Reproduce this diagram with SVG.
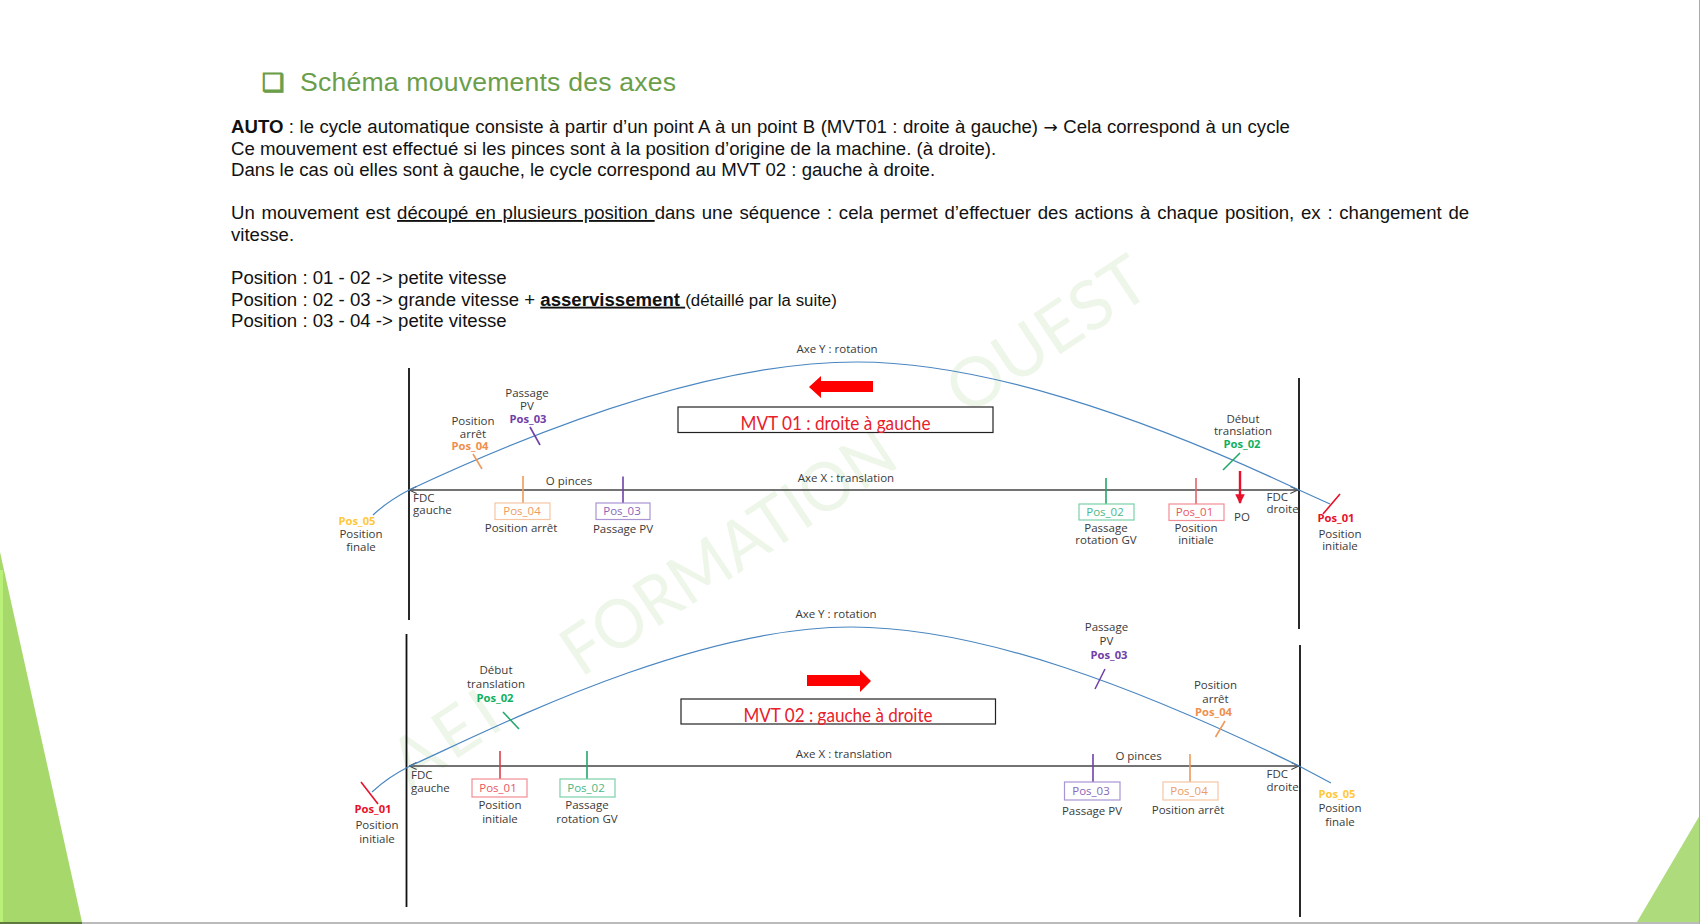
<svg xmlns="http://www.w3.org/2000/svg" width="1700" height="924" viewBox="0 0 1700 924">
<style>
text{font-family:"Open Sans","Noto Sans",sans-serif;font-size:11.5px;fill:#3a3a3a}
.c{text-anchor:middle}
.body text{font-family:"Liberation Sans",Arial,sans-serif;font-size:18.62px;fill:#111}
.u{text-decoration:underline}
.k{font-weight:700}
text.p{font-weight:700;font-size:11.2px}
.box{fill:#fff;stroke-width:1.2}
.tk{fill:none;stroke-width:1.6}
.r{stroke:#e8102a}.rb{stroke:#f28d95}.rt{fill:#ec5560}.rp{fill:#e8102a}
.o{stroke:#ed9a5c}.ob{stroke:#f6c6a4}.ot{fill:#ee9a60}.op{fill:#ee8f4e}
.v{stroke:#7040a8}.vb{stroke:#a994d4}.vt{fill:#8a66b8}.vp{fill:#7040a8}
.g{stroke:#22a86a}.gb{stroke:#7cd0a8}.gt{fill:#4ab888}.gp{fill:#10b060}
.y{fill:#ffc83a}
.curve{fill:none;stroke:#4a86c0;stroke-width:1.2}
.axis{fill:none;stroke:#444;stroke-width:1.3;marker-start:url(#open);marker-end:url(#open)}
.wall{stroke:#111;stroke-width:1.8}
text.mvt{font-family:"Lato","Open Sans",sans-serif;font-size:19px;fill:#e8202a}
.mb{fill:#fff;stroke:#222;stroke-width:1.2}
text.wm{font-family:"Lato","Liberation Sans",sans-serif;font-size:68px;fill:#edf6e9}
</style>
<defs>
<marker id="open" viewBox="0 0 10 10" refX="9.5" refY="5" markerWidth="9" markerHeight="9" markerUnits="userSpaceOnUse" orient="auto-start-reverse"><path d="M1 1L9.5 5L1 9" fill="none" stroke="#444" stroke-width="1.2"/></marker>
<marker id="redhead" viewBox="0 0 10 10" refX="9" refY="5" markerWidth="4" markerHeight="4" orient="auto"><path d="M0 0L10 5L0 10Z" fill="#e8102a"/></marker>
</defs>
<rect width="1700" height="924" fill="#fff"/>
<g id="watermark">
<text class="wm" transform="translate(410,790) rotate(-33.6)" textLength="115">AEI</text>
<text class="wm" transform="translate(581,678) rotate(-33.6)" textLength="385" lengthAdjust="spacingAndGlyphs">FORMATION</text>
<text class="wm" transform="translate(966,417) rotate(-33.6)" textLength="226" lengthAdjust="spacingAndGlyphs">OUEST</text>
</g>
<g id="background">
<path d="M0 552L82 922H0Z" fill="#a6d86b"/>
<rect x="0" y="570" width="3" height="352" fill="#b9f077"/>
<path d="M1700 815L1637 922H1700Z" fill="#aedb7c"/>
<rect x="0" y="922" width="1700" height="2" fill="#bbb"/>
<rect x="0" y="922" width="82" height="2" fill="#5f7a3d"/>
<rect x="1699" y="0" width="1" height="924" fill="#aaa"/>
</g>
<g id="title">
<text x="262" y="91" style="font-family:'DejaVu Sans',sans-serif;font-size:25px;fill:#6b9e4a;stroke:#6b9e4a;stroke-width:1">❑</text>
<text x="300" y="91" style="font-family:'Liberation Sans',Arial,sans-serif;font-size:26.6px;fill:#6b9e4a" textLength="376">Schéma mouvements des axes</text>
</g>
<g id="intro" class="body">
<text x="231" y="133" word-spacing="0.3"><tspan class="k">AUTO</tspan> : le cycle automatique consiste à partir d’un point A à un point B (MVT01 : droite à gauche) <tspan style="font-family:'DejaVu Sans',sans-serif;font-size:17px">→</tspan> Cela correspond à un cycle</text>
<text x="231" y="154.7">Ce mouvement est effectué si les pinces sont à la position d’origine de la machine. (à droite).</text>
<text x="231" y="176.4">Dans le cas où elles sont à gauche, le cycle correspond au MVT 02 : gauche à droite.</text>
<text x="231" y="219" word-spacing="1.56" xml:space="preserve">Un mouvement est <tspan class="u">découpé en plusieurs position </tspan>dans une séquence : cela permet d’effectuer des actions à chaque position, ex : changement de</text>
<text x="231" y="241">vitesse.</text>
<text x="231" y="284">Position : 01 - 02 -&gt; petite vitesse</text>
<text x="231" y="305.7" xml:space="preserve">Position : 02 - 03 -&gt; grande vitesse + <tspan class="k u">asservissement </tspan><tspan style="font-size:16.85px">(détaillé par la suite)</tspan></text>
<text x="231" y="327.4">Position : 03 - 04 -&gt; petite vitesse</text>
</g>
<g id="connectors">
<line class="wall" x1="409" y1="368" x2="409" y2="620"/>
<line class="wall" x1="1299" y1="378" x2="1299" y2="629"/>
<line class="wall" x1="406.500" y1="634" x2="406.500" y2="907"/>
<line class="wall" x1="1300" y1="645" x2="1300" y2="917"/>
<line class="axis" x1="409" y1="490" x2="1298" y2="490"/>
<line class="axis" x1="409" y1="766" x2="1299" y2="766"/>
<path class="curve" d="M373 515Q388 501 409 490C490 452 690 362 857 362C980 362 1140 415 1299 490L1330 504"/>
<path class="curve" d="M372 792Q388 777 410 766C490 730 690 627 851 627C980 627 1140 688 1299 766L1331 783"/>
<path d="M1240 471V503" stroke="#e8102a" stroke-width="2.4" fill="none" marker-end="url(#redhead)"/>
</g>
<g id="mvt01">
<path d="M809 387L821 376V381H873V392H821V398Z" fill="#f00"/>
<rect class="mb" x="678" y="407" width="315" height="25.500"/>
<text class="mvt c" x="835.500" y="430" textLength="190" lengthAdjust="spacingAndGlyphs">MVT 01 : droite à gauche</text>
<text class="c" x="837" y="353">Axe Y : rotation</text>
<text class="c" x="846" y="482">Axe X : translation</text>
<text class="c" x="569" y="485">O pinces</text>
<text class="c" x="1242" y="521">PO</text>
</g>
<g id="fdc-top">
<text x="413" y="502">FDC</text><text x="413" y="514">gauche</text>
<text x="1266.500" y="501">FDC</text><text x="1266.500" y="513">droite</text>
</g>
<g id="top-pos05"><text class="c y p" x="357" y="525">Pos_05</text><text class="c" x="361" y="538">Position</text><text class="c" x="361" y="551">finale</text></g>
<g id="top-arret">
<line class="tk o" x1="473" y1="454" x2="482" y2="469"/>
<text class="c" x="473" y="425">Position</text><text class="c" x="473" y="438">arrêt</text><text class="c p op" x="470" y="450">Pos_04</text>
</g>
<g id="top-pv">
<line class="tk v" x1="530" y1="427" x2="540" y2="445"/>
<text class="c" x="527" y="397">Passage</text><text class="c" x="527" y="410">PV</text><text class="c p vp" x="528" y="423">Pos_03</text>
</g>
<g id="top-box04">
<line class="tk o" x1="523" y1="476" x2="523" y2="503"/>
<rect class="box ob" x="495" y="503" width="55" height="16.500"/>
<text class="c ot" x="522" y="515">Pos_04</text><text class="c" x="521" y="532">Position arrêt</text>
</g>
<g id="top-box03">
<line class="tk v" x1="623" y1="476.500" x2="623" y2="503"/>
<rect class="box vb" x="596" y="503" width="54" height="16.500"/>
<text class="c vt" x="622" y="515">Pos_03</text><text class="c" x="623" y="533">Passage PV</text>
</g>
<g id="top-box02">
<line class="tk g" x1="1106" y1="478" x2="1106" y2="504"/>
<rect class="box gb" x="1079" y="504" width="55" height="16"/>
<text class="c gt" x="1105" y="516">Pos_02</text><text class="c" x="1106" y="532">Passage</text><text class="c" x="1106" y="544">rotation GV</text>
</g>
<g id="top-box01">
<line class="tk r" x1="1196" y1="478" x2="1196" y2="504" style="stroke:#e8606a"/>
<rect class="box rb" x="1169" y="504" width="55" height="16.500"/>
<text class="c rt" x="1194.500" y="516">Pos_01</text><text class="c" x="1196" y="532">Position</text><text class="c" x="1196" y="544">initiale</text>
</g>
<g id="top-debut">
<line class="tk g" x1="1240" y1="453" x2="1223" y2="470"/>
<text class="c" x="1243" y="423">Début</text><text class="c" x="1243" y="435">translation</text><text class="c p gp" x="1242" y="448">Pos_02</text>
</g>
<g id="top-pos01">
<line class="tk r" x1="1340" y1="494" x2="1323" y2="514"/>
<text class="c p rp" x="1336" y="522">Pos_01</text><text class="c" x="1340" y="538">Position</text><text class="c" x="1340" y="550">initiale</text>
</g>
<g id="mvt02">
<path d="M807 675H860V670L871 681L860 692V686H807Z" fill="#f00"/>
<rect class="mb" x="681" y="699" width="314.500" height="25"/>
<text class="mvt c" x="838" y="722" textLength="189" lengthAdjust="spacingAndGlyphs">MVT 02 : gauche à droite</text>
<text class="c" x="836" y="618">Axe Y : rotation</text>
<text class="c" x="844" y="758">Axe X : translation</text>
<text class="c" x="1138.600" y="760">O pinces</text>
</g>
<g id="fdc-bottom">
<text x="411" y="779">FDC</text><text x="411" y="792">gauche</text>
<text x="1266.500" y="778">FDC</text><text x="1266.500" y="791">droite</text>
</g>
<g id="bot-pos01">
<line class="tk r" x1="361" y1="782" x2="378" y2="804"/>
<text class="c p rp" x="373" y="813">Pos_01</text><text class="c" x="377" y="829">Position</text><text class="c" x="377" y="843">initiale</text>
</g>
<g id="bot-debut">
<line class="tk g" x1="503" y1="712" x2="519" y2="729"/>
<text class="c" x="496" y="674">Début</text><text class="c" x="496" y="688">translation</text><text class="c p gp" x="495" y="702">Pos_02</text>
</g>
<g id="bot-box01">
<line class="tk r" x1="500" y1="751" x2="500" y2="779" style="stroke:#d8404a"/>
<rect class="box rb" x="472" y="779" width="55" height="18"/>
<text class="c rt" x="498" y="792">Pos_01</text><text class="c" x="500" y="809">Position</text><text class="c" x="500" y="823">initiale</text>
</g>
<g id="bot-box02">
<line class="tk g" x1="587" y1="751" x2="587" y2="779"/>
<rect class="box gb" x="560" y="779" width="55" height="18"/>
<text class="c gt" x="586" y="792">Pos_02</text><text class="c" x="587" y="809">Passage</text><text class="c" x="587" y="823">rotation GV</text>
</g>
<g id="bot-pv">
<line class="tk v" x1="1105" y1="669" x2="1095" y2="689"/>
<text class="c" x="1106.500" y="631">Passage</text><text class="c" x="1106.500" y="645">PV</text><text class="c p vp" x="1109" y="659">Pos_03</text>
</g>
<g id="bot-arret">
<line class="tk o" x1="1225" y1="721" x2="1215.500" y2="737"/>
<text class="c" x="1215.500" y="689">Position</text><text class="c" x="1215.500" y="703">arrêt</text><text class="c p op" x="1213.500" y="716">Pos_04</text>
</g>
<g id="bot-box03">
<line class="tk v" x1="1093" y1="754" x2="1093" y2="782"/>
<rect class="box vb" x="1064.500" y="782" width="55.500" height="18"/>
<text class="c vt" x="1091" y="795">Pos_03</text><text class="c" x="1092" y="815">Passage PV</text>
</g>
<g id="bot-box04">
<line class="tk o" x1="1190" y1="754" x2="1190" y2="782"/>
<rect class="box ob" x="1163" y="782" width="55" height="18"/>
<text class="c ot" x="1189" y="795">Pos_04</text><text class="c" x="1188" y="814">Position arrêt</text>
</g>
<g id="bot-pos05"><text class="c y p" x="1337" y="798">Pos_05</text><text class="c" x="1340" y="812">Position</text><text class="c" x="1340" y="826">finale</text></g>
</svg>
